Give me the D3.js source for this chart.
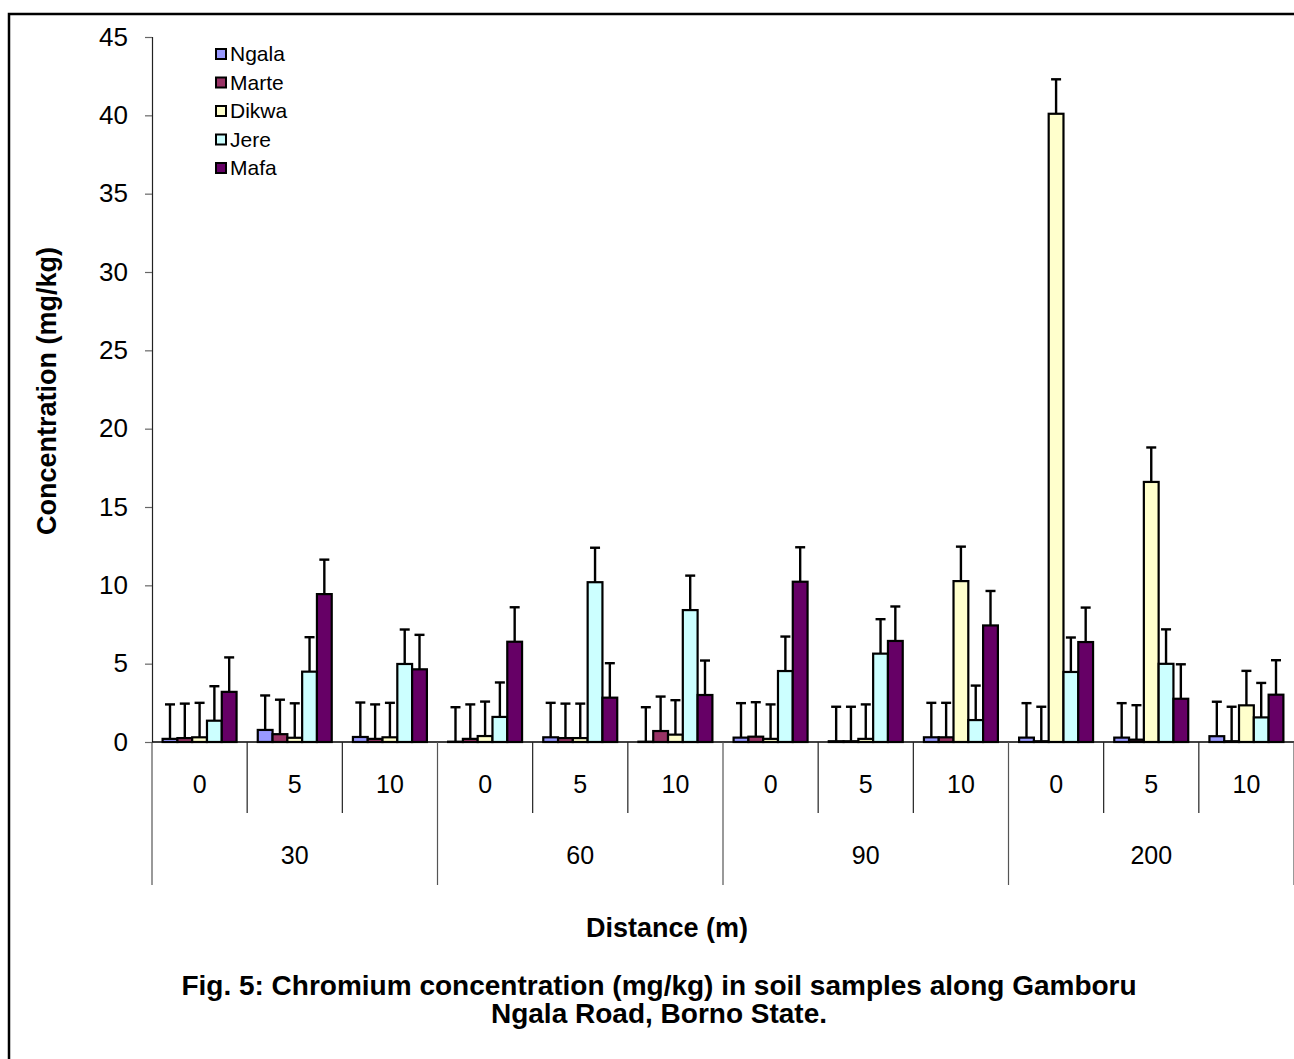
<!DOCTYPE html>
<html>
<head>
<meta charset="utf-8">
<script src="https://cdn.jsdelivr.net/npm/d3@7"></script>
<style>
  body { margin: 0; background: #fff; }
  svg { display: block; font-family: Arial, "Liberation Sans", sans-serif; }
</style>
</head>
<body>
<div id="chart"></div>
<script>
// CHART DATA
const distances = ['30', '60', '90', '200'];
const depths = ['0', '5', '10'];
const series = ['Ngala', 'Marte', 'Dikwa', 'Jere', 'Mafa'];
const colors = ['#9999ff', '#993366', '#ffffcc', '#ccffff', '#660066'];

// values in order 30/0,30/5,30/10, 60/0 ... 200/10
const ngala = [0.2, 0.77, 0.32, 0.02, 0.3, 0.02, 0.28, 0.05, 0.3, 0.28, 0.28, 0.37];
const marte = [0.25, 0.5, 0.2, 0.2, 0.25, 0.7, 0.34, 0.05, 0.3, 0.05, 0.15, 0.05];
const dikwa = [0.3, 0.27, 0.3, 0.38, 0.25, 0.47, 0.2, 0.2, 10.27, 40.1, 16.6, 2.34];
const jere = [1.36, 4.49, 4.98, 1.6, 10.2, 8.42, 4.53, 5.64, 1.4, 4.47, 4.99, 1.57];
const mafa = [3.2, 9.44, 4.64, 6.4, 2.83, 3.0, 10.23, 6.45, 7.44, 6.38, 2.76, 3.02];
const errors = [2.2, 2.2, 2.2, 2.2, 2.2];
const yTicks = [0, 5, 10, 15, 20, 25, 30, 35, 40, 45];

const seriesValues = [ngala, marte, dikwa, jere, mafa];

// PLOT DEFAULTS
const SVG_WIDTH = 1294;
const SVG_HEIGHT = 1059;
const PLOT = { left: 152, right: 1294, top: 37, bottom: 742 };
const FONT = 'Arial, "Liberation Sans", sans-serif';

const svg = d3.select('#chart')
  .append('svg')
  .attr('width', SVG_WIDTH)
  .attr('height', SVG_HEIGHT);

// outer frame (right and bottom edges run off the page)
svg.append('rect')
  .attr('x', 9).attr('y', 14)
  .attr('width', 1400).attr('height', 1200)
  .attr('fill', 'none')
  .attr('stroke', '#000')
  .attr('stroke-width', 2.5);

// one band per distance/depth pair
const keys = [];
distances.forEach(g => depths.forEach(d => keys.push(g + '-' + d)));

const x0 = d3.scaleBand()
  .domain(keys)
  .range([PLOT.left, PLOT.right])
  .padding(0);

const x1 = d3.scaleBand()
  .domain(series)
  .range([10.6, x0.bandwidth() - 10.6])
  .padding(0);

const yScale = d3.scaleLinear()
  .domain([0, 45])
  .range([PLOT.bottom, PLOT.top]);

// y axis
const yAxis = svg.append('g')
  .attr('transform', `translate(${PLOT.left}, 0)`)
  .call(d3.axisLeft(yScale).tickValues(yTicks).tickSize(7).tickPadding(17));
yAxis.select('.domain').attr('stroke', '#222').attr('stroke-width', 1.2);
yAxis.selectAll('.tick line').attr('stroke', '#666').attr('stroke-width', 1.2);
yAxis.selectAll('.tick text')
  .attr('font-size', 26)
  .attr('font-family', FONT)
  .attr('fill', '#000');

// bars
const data = [];
keys.forEach((k, i) => {
  series.forEach((s, j) => {
    data.push({ key: k, name: s, value: seriesValues[j][i], err: errors[j], color: colors[j] });
  });
});

const bars = svg.append('g');
bars.selectAll('rect')
  .data(data)
  .join('rect')
  .attr('x', d => x0(d.key) + x1(d.name))
  .attr('y', d => yScale(d.value))
  .attr('width', x1.bandwidth())
  .attr('height', d => yScale(0) - yScale(d.value))
  .attr('fill', d => d.color)
  .attr('stroke', '#000')
  .attr('stroke-width', 2.2);

// error bars (plus direction only)
const errG = svg.append('g').attr('stroke', '#000').attr('stroke-width', 2.4);
errG.selectAll('line.stem')
  .data(data)
  .join('line')
  .attr('class', 'stem')
  .attr('x1', d => x0(d.key) + x1(d.name) + x1.bandwidth() / 2)
  .attr('x2', d => x0(d.key) + x1(d.name) + x1.bandwidth() / 2)
  .attr('y1', d => yScale(d.value))
  .attr('y2', d => yScale(d.value + d.err));
errG.selectAll('line.cap')
  .data(data)
  .join('line')
  .attr('class', 'cap')
  .attr('x1', d => x0(d.key) + x1(d.name) + x1.bandwidth() / 2 - 5)
  .attr('x2', d => x0(d.key) + x1(d.name) + x1.bandwidth() / 2 + 5)
  .attr('y1', d => yScale(d.value + d.err))
  .attr('y2', d => yScale(d.value + d.err));

// x axis baseline
svg.append('line')
  .attr('x1', PLOT.left).attr('x2', PLOT.right)
  .attr('y1', yScale(0)).attr('y2', yScale(0))
  .attr('stroke', '#000').attr('stroke-width', 1.5);

// multi-level category axis
const catG = svg.append('g');
const groupWidth = x0.bandwidth() * depths.length;

// short dividers between depth bands
catG.selectAll('line.sub')
  .data(keys.filter((k, i) => i % depths.length !== 0))
  .join('line')
  .attr('class', 'sub')
  .attr('x1', d => x0(d)).attr('x2', d => x0(d))
  .attr('y1', yScale(0)).attr('y2', yScale(0) + 71)
  .attr('stroke', '#222').attr('stroke-width', 1.2);

// long dividers between distance groups
catG.selectAll('line.grp')
  .data(d3.range(distances.length + 1))
  .join('line')
  .attr('class', 'grp')
  .attr('x1', i => PLOT.left + i * groupWidth)
  .attr('x2', i => PLOT.left + i * groupWidth)
  .attr('y1', yScale(0)).attr('y2', yScale(0) + 143)
  .attr('stroke', '#555').attr('stroke-width', 1.2);

catG.selectAll('text.sub')
  .data(keys)
  .join('text')
  .attr('class', 'sub')
  .attr('x', d => x0(d) + x0.bandwidth() / 2)
  .attr('y', yScale(0) + 42)
  .attr('dy', '0.35em')
  .attr('text-anchor', 'middle')
  .attr('font-size', 25)
  .text(d => d.split('-')[1]);

catG.selectAll('text.grp')
  .data(distances)
  .join('text')
  .attr('class', 'grp')
  .attr('x', (d, i) => PLOT.left + i * groupWidth + groupWidth / 2)
  .attr('y', yScale(0) + 113)
  .attr('dy', '0.35em')
  .attr('text-anchor', 'middle')
  .attr('font-size', 25)
  .text(d => d);

// axis titles
svg.append('text')
  .attr('x', 667).attr('y', 928)
  .attr('dy', '0.35em')
  .attr('text-anchor', 'middle')
  .attr('font-size', 27)
  .attr('font-weight', 'bold')
  .text('Distance (m)');

svg.append('text')
  .attr('transform', 'translate(47, 391) rotate(-90)')
  .attr('dy', '0.35em')
  .attr('text-anchor', 'middle')
  .attr('font-size', 27)
  .attr('font-weight', 'bold')
  .text('Concentration (mg/kg)');

// figure caption
const caption = ['Fig. 5: Chromium concentration (mg/kg) in soil samples along Gamboru', 'Ngala Road, Borno State.'];
svg.selectAll('text.caption')
  .data(caption)
  .join('text')
  .attr('class', 'caption')
  .attr('x', 659)
  .attr('y', (d, i) => 985 + i * 28)
  .attr('dy', '0.35em')
  .attr('text-anchor', 'middle')
  .attr('font-size', 28)
  .attr('font-weight', 'bold')
  .text(d => d);

// legend
const legend = svg.append('g').attr('transform', 'translate(216, 54)');
const legendItems = legend.selectAll('g')
  .data(series)
  .join('g')
  .attr('transform', (d, i) => `translate(0, ${i * 28.5})`);
legendItems.append('rect')
  .attr('x', 0).attr('y', -5)
  .attr('width', 10).attr('height', 10)
  .attr('fill', (d, i) => colors[i])
  .attr('stroke', '#000')
  .attr('stroke-width', 2);
legendItems.append('text')
  .attr('x', 14).attr('y', 0)
  .attr('dy', '0.35em')
  .attr('font-size', 21)
  .text(d => d);
</script>
</body>
</html>
